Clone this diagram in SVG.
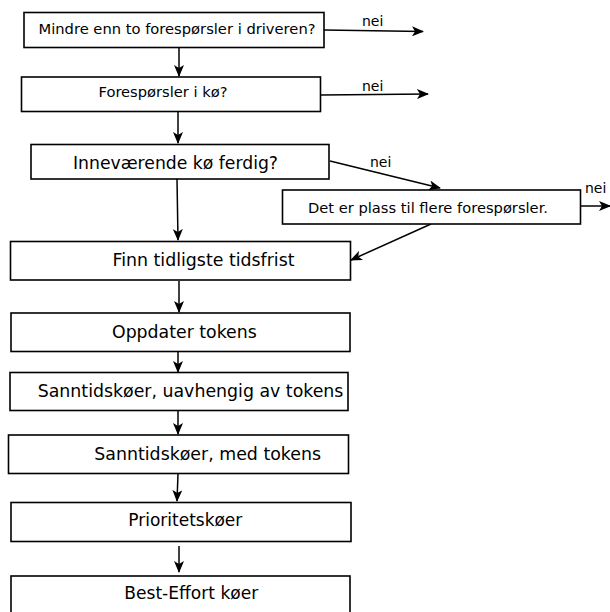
<svg xmlns="http://www.w3.org/2000/svg" width="610" height="612" viewBox="0 0 610 612">
<style>
.box{fill:#fff;stroke:#000;stroke-width:1.6}
.t{font-family:"DejaVu Sans",sans-serif;fill:#000}
.s{font-size:14.7px}
.b{font-size:17.3px}
.c{fill:none;stroke:#000;stroke-width:1.5;marker-end:url(#ah)}
</style>
<defs>
<marker id="ah" viewBox="0 0 12 10" refX="11" refY="5" markerWidth="12" markerHeight="10" markerUnits="userSpaceOnUse" orient="auto">
<path d="M0,0 L12,5 L0,10 L3,5 Z" fill="#000"/>
</marker>
</defs>
<rect width="610" height="612" fill="#fff"/>
<g id="connectors">
<line class="c" x1="179" y1="48" x2="179" y2="76"/>
<line class="c" x1="324" y1="30" x2="423" y2="31.5"/>
<line class="c" x1="321" y1="95" x2="428" y2="94"/>
<line class="c" x1="178" y1="112" x2="178" y2="143"/>
<line class="c" x1="330" y1="161" x2="440" y2="188"/>
<line class="c" x1="177" y1="179" x2="178" y2="240"/>
<line class="c" x1="581" y1="206" x2="610" y2="206"/>
<line class="c" x1="431" y1="224" x2="351" y2="260"/>
<line class="c" x1="179" y1="281" x2="179" y2="312"/>
<line class="c" x1="178" y1="352" x2="178" y2="372"/>
<line class="c" x1="178" y1="411" x2="178" y2="434"/>
<line class="c" x1="178" y1="474" x2="177" y2="501"/>
<line class="c" x1="179" y1="546" x2="179" y2="572"/>
<text class="t" x="362" y="26" font-size="14">nei</text>
<text class="t" x="362" y="90.5" font-size="14">nei</text>
<text class="t" x="370" y="166.5" font-size="14">nei</text>
<text class="t" x="585" y="193" font-size="14">nei</text>
</g>
<g id="n1"><rect class="box" x="24" y="12.5" width="300" height="35"/><text class="t s" x="38.5" y="34" textLength="277" lengthAdjust="spacingAndGlyphs">Mindre enn to forespørsler i driveren?</text></g>
<g id="n2"><rect class="box" x="21.5" y="77" width="299" height="34.5"/><text class="t s" x="98.5" y="97" textLength="129" lengthAdjust="spacingAndGlyphs">Forespørsler i kø?</text></g>
<g id="n3"><rect class="box" x="31" y="144.5" width="298" height="34.5"/><text class="t b" x="73" y="169" textLength="205" lengthAdjust="spacingAndGlyphs">Inneværende kø ferdig?</text></g>
<g id="n4"><rect class="box" x="282.5" y="190" width="298" height="34"/><text class="t s" x="308" y="212.5" textLength="240" lengthAdjust="spacingAndGlyphs">Det er plass til flere forespørsler.</text></g>
<g id="n5"><rect class="box" x="10.5" y="241.5" width="340" height="38.5"/><text class="t b" x="112.5" y="266" textLength="182" lengthAdjust="spacingAndGlyphs">Finn tidligste tidsfrist</text></g>
<g id="n6"><rect class="box" x="11" y="313" width="339" height="38.5"/><text class="t b" x="112" y="338" textLength="144.7" lengthAdjust="spacingAndGlyphs">Oppdater tokens</text></g>
<g id="n7"><rect class="box" x="10" y="372.5" width="338" height="38"/><text class="t b" x="37.7" y="397" textLength="305.7" lengthAdjust="spacingAndGlyphs">Sanntidskøer, uavhengig av tokens</text></g>
<g id="n8"><rect class="box" x="8.5" y="435" width="340" height="38.5"/><text class="t b" x="94.3" y="460" textLength="226.7" lengthAdjust="spacingAndGlyphs">Sanntidskøer, med tokens</text></g>
<g id="n9"><rect class="box" x="11" y="502.5" width="340" height="39"/><text class="t b" x="128.3" y="525.5" textLength="114" lengthAdjust="spacingAndGlyphs">Prioritetskøer</text></g>
<g id="n10"><rect class="box" x="11" y="576" width="339" height="40"/><text class="t b" x="124.3" y="599" textLength="134" lengthAdjust="spacingAndGlyphs">Best-Effort køer</text></g>
</svg>
